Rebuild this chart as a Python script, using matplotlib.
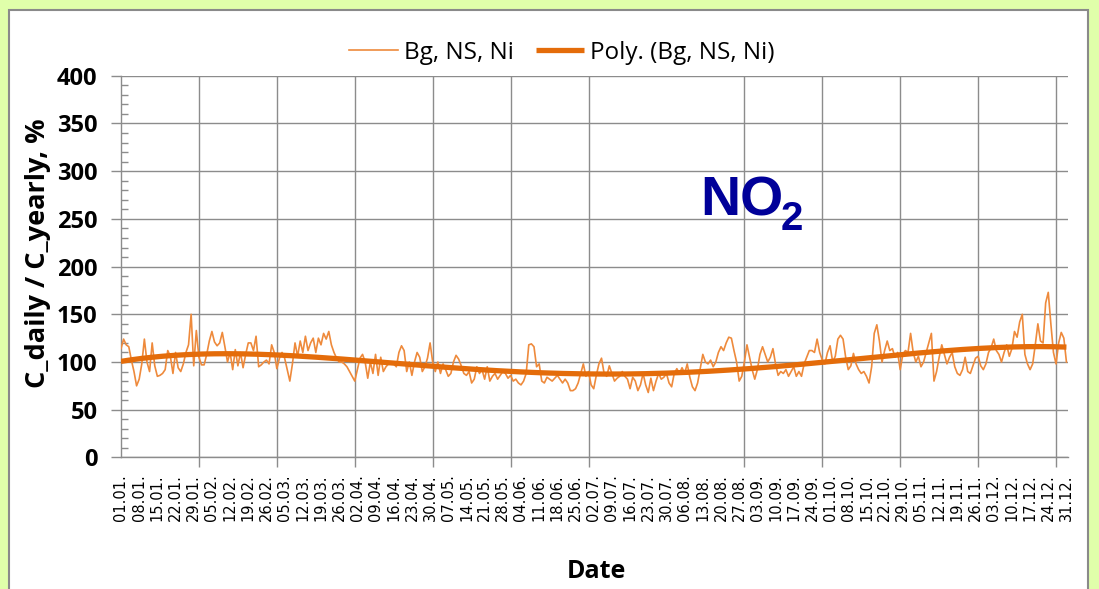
import numpy as np
import matplotlib
matplotlib.use("Agg")
from matplotlib import pyplot as plt
from matplotlib.patches import Rectangle
from matplotlib.ticker import MultipleLocator, FixedLocator

# daily C_daily / C_yearly (%) for Bg, NS, Ni
day_values = [
    114, 124, 118, 116, 102, 90, 75, 82, 98, 124,
    100, 90, 120, 96, 85, 86, 88, 92, 112, 106,
    88, 110, 94, 90, 98, 110, 118, 150, 96, 133,
    105, 97, 97, 108, 122, 132, 121, 117, 120, 131,
    116, 100, 110, 92, 113, 96, 110, 94, 108, 120,
    120, 112, 127, 95, 97, 100, 102, 98, 118, 110,
    93, 104, 110, 104, 92, 80, 98, 120, 106, 122,
    110, 127, 112, 120, 125, 110, 125, 118, 130, 124,
    132, 118, 110, 104, 100, 100, 98, 95, 90, 85,
    80, 92, 104, 108, 100, 83, 100, 88, 108, 86,
    105, 90, 95, 98, 100, 98, 95, 110, 117, 112,
    90, 100, 86, 100, 110, 105, 90, 95, 104, 120,
    100, 90, 100, 88, 98, 92, 85, 88, 100, 107,
    103, 96, 88, 86, 90, 78, 82, 95, 88, 92,
    82, 95, 80, 85, 88, 82, 86, 90, 88, 83,
    86, 80, 82, 78, 76, 80, 88, 118, 119, 116,
    95, 98, 80, 78, 84, 82, 80, 83, 86, 82,
    78, 82, 78, 70, 70, 72, 78, 88, 98, 85,
    90, 76, 72, 86, 98, 104, 88, 85, 96, 88,
    80, 83, 85, 90, 85, 82, 72, 84, 80, 70,
    76, 88, 76, 68, 83, 70, 80, 88, 82, 84,
    88, 78, 74, 88, 93, 88, 94, 88, 98, 84,
    74, 70, 78, 93, 108, 100, 98, 102, 95, 100,
    110, 116, 112, 120, 126, 125, 112, 100, 80, 85,
    100, 118, 105, 92, 82, 92, 108, 116, 108, 100,
    105, 114, 98, 86, 90, 88, 92, 85, 90, 95,
    85, 90, 85, 98, 105, 112, 112, 110, 124, 110,
    102, 98, 110, 117, 100, 106, 124, 128, 124, 105,
    92, 96, 109, 98, 92, 88, 90, 85, 78, 95,
    130, 139, 122, 100, 112, 122, 112, 114, 105, 110,
    92, 108, 112, 110, 130, 110, 100, 106, 95, 100,
    110, 120, 130, 80, 90, 105, 118, 108, 98, 105,
    110, 95, 88, 86, 92, 105, 90, 88, 96, 104,
    106, 96, 92, 98, 110, 115, 124, 112, 108, 100,
    110, 118, 106, 114, 132, 126, 142, 150, 108, 98,
    92, 98, 118, 140, 122, 120, 162, 173, 140, 110,
    98, 120, 131, 125, 100,
]

date_labels = [
    "01.01.", "08.01.", "15.01.", "22.01.", "29.01.", "05.02.", "12.02.",
    "19.02.", "26.02.", "05.03.", "12.03.", "19.03.", "26.03.", "02.04.",
    "09.04.", "16.04.", "23.04.", "30.04.", "07.05.", "14.05.", "21.05.",
    "28.05.", "04.06.", "11.06.", "18.06.", "25.06.", "02.07.", "09.07.",
    "16.07.", "23.07.", "30.07.", "06.08.", "13.08.", "20.08.", "27.08.",
    "03.09.", "10.09.", "17.09.", "24.09.", "01.10.", "08.10.", "15.10.",
    "22.10.", "29.10.", "05.11.", "12.11.", "19.11.", "26.11.", "03.12.",
    "10.12.", "17.12.", "24.12.", "31.12.",
]

series_name = "Bg, NS, Ni"
trend_order = 4

orange = "#E46C0A"
thin_orange = "#EE8A3C"
grid_gray = "#8C8C8C"
bg_green = "#E0FFAA"

days = np.arange(len(day_values))
vals = np.array(day_values, dtype=float)
xs = (days + 1) / 365.0  # scaled for a stable fit
coef = np.polyfit(xs, vals, trend_order)
trend = np.polyval(coef, xs)

fig = plt.figure(figsize=(10.99, 5.89), dpi=100)
fig.patch.set_facecolor(bg_green)
fig.add_artist(Rectangle((9 / 1099, -0.05), 1079 / 1099, 1.05 - 10 / 589,
                         transform=fig.transFigure, facecolor="white",
                         edgecolor="#8a8a8a", linewidth=1.5, zorder=0))

ax = fig.add_axes([121 / 1099, 1 - 457.4 / 589, 947 / 1099, 381.6 / 589])
ax.set_facecolor("white")

ax.plot(days, vals, color=thin_orange, lw=1.2, label=series_name, zorder=3)
ax.plot(days, trend, color=orange, lw=3.8, label="Poly. (" + series_name + ")",
        zorder=4, solid_capstyle="butt")

ax.set_xlim(0, 364.6)
ax.set_ylim(0, 400)

# y axis
ax.yaxis.set_major_locator(MultipleLocator(50))
ax.yaxis.set_minor_locator(MultipleLocator(10))
ax.tick_params(axis="y", which="major", direction="out", length=7, width=1,
               color=grid_gray, pad=10, labelsize=17)
ax.tick_params(axis="y", which="minor", direction="in", length=5, width=1,
               color=grid_gray)
for lab in ax.get_yticklabels():
    lab.set_fontfamily("Open Sans")
    lab.set_fontweight("bold")

# x axis: labels every 7 days, ticks/grid every 30 days
ax.xaxis.set_major_locator(FixedLocator(np.arange(0, len(date_labels) * 7, 7)))
ax.set_xticklabels(date_labels, rotation=90, fontsize=10.5,
                   family="DejaVu Sans", va="top", ha="center")
ax.xaxis.set_minor_locator(FixedLocator(np.arange(0, 361, 30)))
ax.tick_params(axis="x", which="major", length=0, pad=12)
ax.tick_params(axis="x", which="minor", direction="out", length=7, width=1,
               color=grid_gray)

ax.grid(True, axis="y", which="major", color=grid_gray, lw=1)
ax.grid(True, axis="x", which="minor", color=grid_gray, lw=1)
ax.grid(False, axis="x", which="major")
ax.set_axisbelow(True)

for s in ("top", "right"):
    ax.spines[s].set_visible(False)
for s in ("left", "bottom"):
    ax.spines[s].set_color(grid_gray)
    ax.spines[s].set_linewidth(1)

# NO2 label
no = ax.text(0.612, 0.633, "NO", transform=ax.transAxes, fontsize=40,
             fontweight="bold", family="Liberation Sans", color="#000099",
             ha="left", va="baseline")
ax.annotate("2", xy=(1, 0), xycoords=no, xytext=(-2, -1.5),
            textcoords="offset points", fontsize=29, fontweight="bold",
            family="Liberation Sans", color="#000099", ha="left", va="baseline")

fig.text(38 / 1099, 1 - 253 / 589, "C_daily / C_yearly, %", rotation=90,
         ha="center", va="center", fontsize=19.5, fontweight="bold",
         family="Open Sans")
fig.text(596 / 1099, 1 - 572 / 589, "Date", ha="center", va="center",
         fontsize=18, fontweight="bold", family="Open Sans")

fig.legend(loc="center", bbox_to_anchor=(562 / 1099, 1 - 53 / 589), ncol=2,
           frameon=False, prop={"family": "Open Sans", "size": 17.5},
           handlelength=2.0, handletextpad=0.25, columnspacing=0.9)

fig.savefig("out.png", dpi=100, facecolor=fig.get_facecolor())
